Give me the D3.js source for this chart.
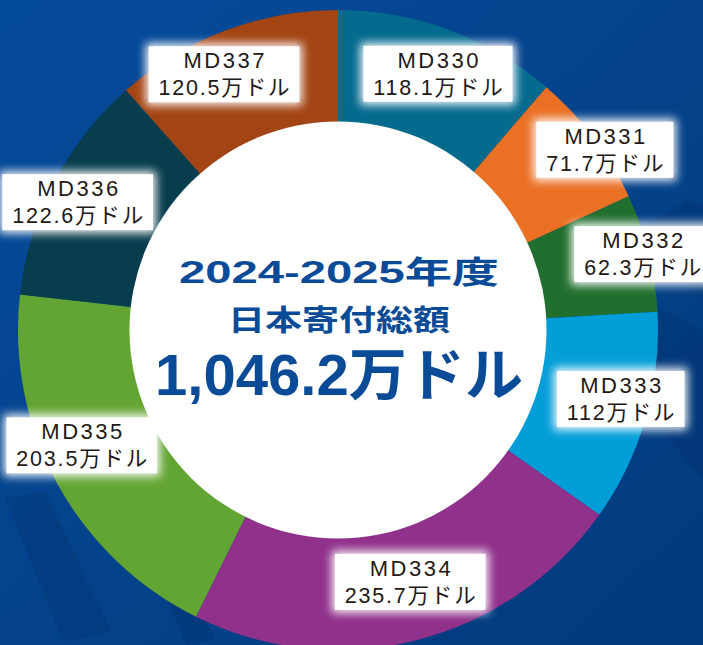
<!DOCTYPE html>
<html>
<head>
<meta charset="utf-8">
<script src="https://cdn.jsdelivr.net/npm/d3@7/dist/d3.min.js"></script>
<style>
  body { margin: 0; background: #04448f; }
  svg { display: block; }
</style>
</head>
<body>
<svg id="chart" width="703" height="645"></svg>
<script>
// data (万ドル)
const categories = ["MD330", "MD331", "MD332", "MD333", "MD334", "MD335", "MD336", "MD337"];
const amounts = [118.1, 71.7, 62.3, 112, 235.7, 203.5, 122.6, 120.5];
const sliceColors = ["#046a8e", "#ea7024", "#216f2e", "#039ed8", "#90318b", "#63a532", "#083d4e", "#a34414"];
const centerLines = ["2024-2025年度", "日本寄付総額", "1,046.2万ドル"];
const unit = "万ドル";

// label placement (hand tuned, like the original artwork)
const labelRadius = [275, 322, 314, 291, 262, 281, 290, 280];
const labelNudge = [1, 3, 0, -2.3, -1.8, 4.4, -1.3, -3.3]; // degrees

const width = 703, height = 645;
const cx = 338, cy = 330;
const outerR = 320, innerR = 208;
const font = "'Liberation Sans', 'Noto Sans CJK JP', sans-serif";

const svg = d3.select("#chart");
const defs = svg.append("defs");

// background
const grad = defs.append("linearGradient")
    .attr("id", "bg").attr("x1", 0).attr("y1", 0).attr("x2", 1).attr("y2", 1);
grad.append("stop").attr("offset", "0%").attr("stop-color", "#054b9c");
grad.append("stop").attr("offset", "100%").attr("stop-color", "#033a7b");
svg.append("rect").attr("width", width).attr("height", height).attr("fill", "url(#bg)");

// faint decorative shapes
const deco = [
    [[5, 498], [45, 492], [112, 632], [63, 642]],
    [[150, 560], [178, 550], [215, 640], [186, 645]],
    [[640, 228], [688, 200], [703, 206], [703, 300], [668, 262]],
    [[640, 300], [703, 330], [703, 480], [670, 440]]
];
svg.append("g").selectAll("path").data(deco).enter().append("path")
    .attr("d", d => d3.line()(d) + "Z")
    .attr("fill", "#02326e")
    .attr("opacity", 0.35);

const glow = defs.append("filter").attr("id", "glow")
    .attr("x", "-40%").attr("y", "-60%").attr("width", "180%").attr("height", "220%");
glow.append("feGaussianBlur").attr("stdDeviation", 5);

// donut
const pie = d3.pie().sort(null).value(d => d)(amounts);
const arc = d3.arc().innerRadius(innerR).outerRadius(outerR);

const g = svg.append("g").attr("transform", `translate(${cx},${cy})`);
g.selectAll("path.slice").data(pie).enter().append("path")
    .attr("class", "slice")
    .attr("d", arc)
    .attr("fill", (d, i) => sliceColors[i]);

g.append("circle").attr("r", innerR + 0.5).attr("fill", "#ffffff");

// center text
const ctext = [
    { size: 31, y: -47, len: 320 },
    { size: 29, y: 1, len: 222 },
    { size: 57, y: 65, len: 368 }
];
g.selectAll("text.center").data(centerLines).enter().append("text")
    .attr("class", "center")
    .attr("x", 1)
    .attr("y", (d, i) => ctext[i].y)
    .attr("text-anchor", "middle")
    .attr("textLength", (d, i) => ctext[i].len)
    .attr("lengthAdjust", "spacingAndGlyphs")
    .style("font-family", font)
    .style("font-weight", 700)
    .style("font-size", (d, i) => ctext[i].size + "px")
    .attr("fill", "#0a4b97")
    .text(d => d);

// labels
const labels = g.selectAll("g.label").data(pie).enter().append("g")
    .attr("class", "label")
    .attr("transform", (d, i) => {
        const a = (d.startAngle + d.endAngle) / 2 + labelNudge[i] * Math.PI / 180;
        const r = labelRadius[i];
        return `translate(${r * Math.sin(a)},${-r * Math.cos(a)})`;
    });

labels.each(function (d, i) {
    const lg = d3.select(this);
    const glowRect = lg.append("rect").attr("fill", "#ffffff").attr("filter", "url(#glow)");
    const box = lg.append("rect").attr("fill", "#ffffff");
    const t1 = lg.append("text").attr("y", -6).attr("x", 1.25)
        .style("letter-spacing", "2.5px").style("font-size", "22px").text(categories[i]);
    const t2 = lg.append("text").attr("y", 21).attr("x", 0.9)
        .style("letter-spacing", "1.8px").style("font-size", "21.5px").text(amounts[i] + unit);
    lg.selectAll("text")
        .attr("text-anchor", "middle")
        .attr("fill", "#231815")
        .style("font-family", font);
    const w = Math.max(t1.node().getComputedTextLength(), t2.node().getComputedTextLength()) + 18;
    const h = 56;
    box.attr("x", -w / 2).attr("y", -28).attr("width", w).attr("height", h);
    glowRect.attr("x", -w / 2 - 3).attr("y", -31).attr("width", w + 6).attr("height", h + 6)
        .attr("opacity", 0.95);
});
</script>
</body>
</html>
